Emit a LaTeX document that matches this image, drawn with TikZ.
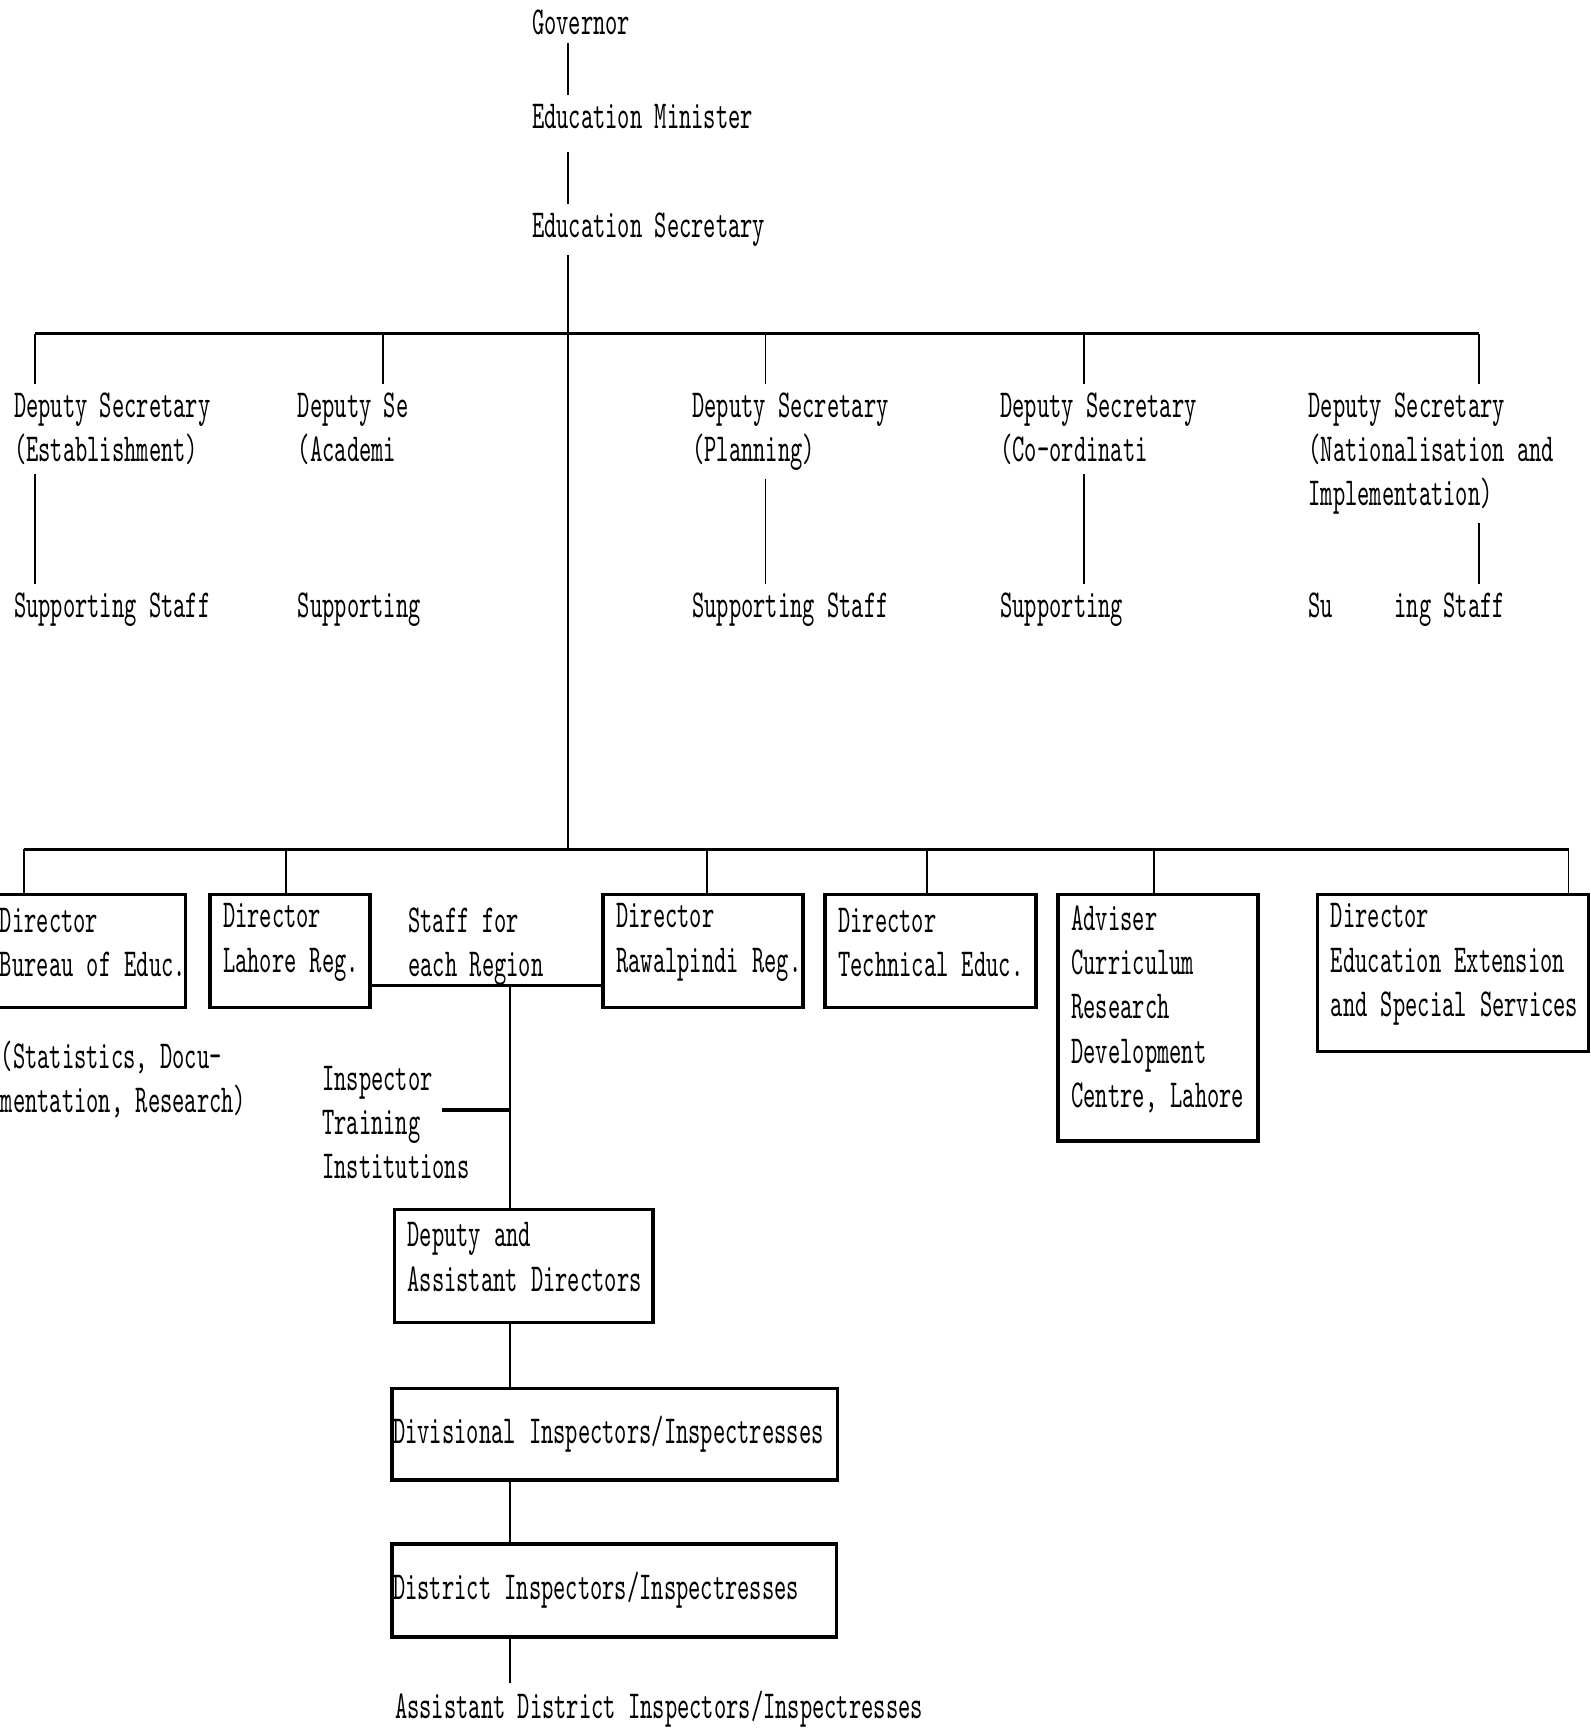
\documentclass[tikz,border=0pt]{standalone}
\usepackage{fontspec}
\newfontfamily\typer{lmmono10-regular}[Extension=.otf, FakeStretch=0.59]
\tikzset{
	lbl/.style={font=\fontsize{10.2}{11.4}\typer, align=left, inner xsep=0pt, inner ysep=2pt},
	orgbox/.style={draw, line width=0.9pt, font=\fontsize{10.2}{11.4}\typer, align=left, inner xsep=0.12cm, inner ysep=2pt,
		execute at begin node={\hyphenpenalty=10000\exhyphenpenalty=10000}},
	lift/.style={execute at end node={\par\kern4.5pt}},
	conn/.style={line width=0.5pt},
	bus/.style={line width=0.9pt}
}
\begin{document}
\begin{tikzpicture}[x=0.01cm, y=-0.01cm]
	\path[fill=white, use as bounding box] (0,0) rectangle (1440,1568);
	% top of the chain
	\node[lbl, anchor=base west] (gov) at (481,31) {Governor};
	\node[lbl, anchor=base west] (minister) at (481,116) {Education Minister};
	\node[lbl, anchor=base west] (secretary) at (481,215) {Education Secretary};
	\coordinate (spine) at (514,0);
	\draw[conn] (gov.south -| spine) -- (minister.north -| spine);
	\draw[conn, shorten <=4pt] (minister.south -| spine) -- (secretary.north -| spine);
	% deputy secretaries (base = last line)
	\node[lbl, anchor=base west] (dsEst) at (12,418) {Deputy Secretary\\(Establishment)};
	\node[lbl, anchor=base west] (dsAcad) at (269,418) {Deputy Se\\(Academi};
	\node[lbl, anchor=base west] (dsPlan) at (626,418) {Deputy Secretary\\(Planning)};
	\node[lbl, anchor=base west] (dsCoord) at (905,418) {Deputy Secretary\\(Co-ordinati};
	\node[lbl, anchor=base west] (dsNat) at (1184,458) {Deputy Secretary\\(Nationalisation and\\Implementation)};
	\node[lbl, anchor=base west] (ssEst) at (12,559) {Supporting Staff};
	\node[lbl, anchor=base west] (ssAcad) at (269,559) {Supporting};
	\node[lbl, anchor=base west] (ssPlan) at (626,559) {Supporting Staff};
	\node[lbl, anchor=base west] (ssCoord) at (905,559) {Supporting};
	\node[lbl, anchor=base west] (ssNat) at (1184,559) {Su\phantom{pport}ing Staff};
	\coordinate (dEst) at (32,302);
	\coordinate (dAcad) at (347,302);
	\coordinate (dPlan) at (693,302);
	\coordinate (dCoord) at (981,302);
	\coordinate (dNat) at (1339,302);
	\draw[bus] (dEst) -- (dNat);
	\foreach \n in {Est, Acad, Plan, Coord, Nat}
		\draw[conn] (d\n) -- (d\n |- ds\n.north);
	\foreach \n in {Est, Plan, Coord, Nat}
		\draw[conn] (ds\n.south -| d\n) -- (ss\n.north -| d\n);
	% directors
	\coordinate (hub) at (514,769);
	\draw[conn] (secretary.south -| spine) -- (hub);
	\coordinate (bBur) at (22,769);
	\coordinate (bLah) at (259,769);
	\coordinate (bRaw) at (640,769);
	\coordinate (bTech) at (839,769);
	\coordinate (bAdv) at (1045,769);
	\coordinate (bExt) at (1420,769);
	\draw[bus] (bBur) -- (bExt);
	\node[orgbox, lift, text width=1.56cm, minimum height=1.02cm] (bureau) at (78,861) {Director\\Bureau~of~Educ.};
	\node[orgbox, lift, text width=1.21cm, minimum height=1.02cm] (lahore) at (262.5,861) {Director\\Lahore~Reg.};
	\node[orgbox, lift, text width=1.57cm, minimum height=1.02cm] (rawal) at (636.5,861) {Director\\Rawalpindi~Reg.};
	\node[orgbox, lift, text width=1.67cm, minimum height=1.02cm] (tech) at (842.5,861) {Director\\Technical~Educ.};
	\node[orgbox, lift, text width=1.57cm, minimum height=2.23cm] (adviser) at (1048.5,921.5) {Adviser\\Curriculum\\Research\\Development\\Centre,~Lahore};
	\node[orgbox, lift, text width=2.21cm, minimum height=1.42cm] (ext) at (1315.5,881) {Director\\Education~Extension\\and~Special~Services};
	\foreach \b/\n in {bBur/bureau, bLah/lahore, bRaw/rawal, bTech/tech, bAdv/adviser, bExt/ext}
		\draw[conn] (\b) -- (\b |- \n.north);
	\node[lbl, anchor=base west] (stats) at (0,1007) {(Statistics, Docu-\\mentation, Research)};
	% regional line
	\node[lbl, anchor=base west] (staff) at (369,884) {Staff for\\each Region};
	\coordinate (reg) at (462,892);
	\draw[bus] (lahore.east |- reg) -- (rawal.west |- reg);
	\node[lbl, anchor=base west] (insp) at (291,1067) {Inspector\\Training\\Institutions};
	\coordinate (inspEnd) at (400,1005);
	\draw[bus] (inspEnd) -- (inspEnd -| reg);
	\node[orgbox, lift, text width=2.10cm, minimum height=1.02cm] (depasst) at (474,1146) {Deputy~and\\Assistant~Directors};
	\node[orgbox, inner xsep=0.01cm, text width=4.01cm, minimum height=0.83cm] (divis) at (556.5,1298.5) {Divisional~Inspectors/Inspectresses};
	\node[orgbox, inner xsep=0.01cm, text width=4.00cm, minimum height=0.84cm] (distr) at (556,1440) {District~Inspectors/Inspectresses};
	\node[lbl, anchor=base west] (adi) at (357,1556) {Assistant District Inspectors/Inspectresses};
	\draw[conn] (reg) -- (depasst.north -| reg);
	\draw[conn] (depasst.south -| reg) -- (divis.north -| reg);
	\draw[conn] (divis.south -| reg) -- (distr.north -| reg);
	\draw[conn] (distr.south -| reg) -- (adi.north -| reg);
\end{tikzpicture}
\end{document}
